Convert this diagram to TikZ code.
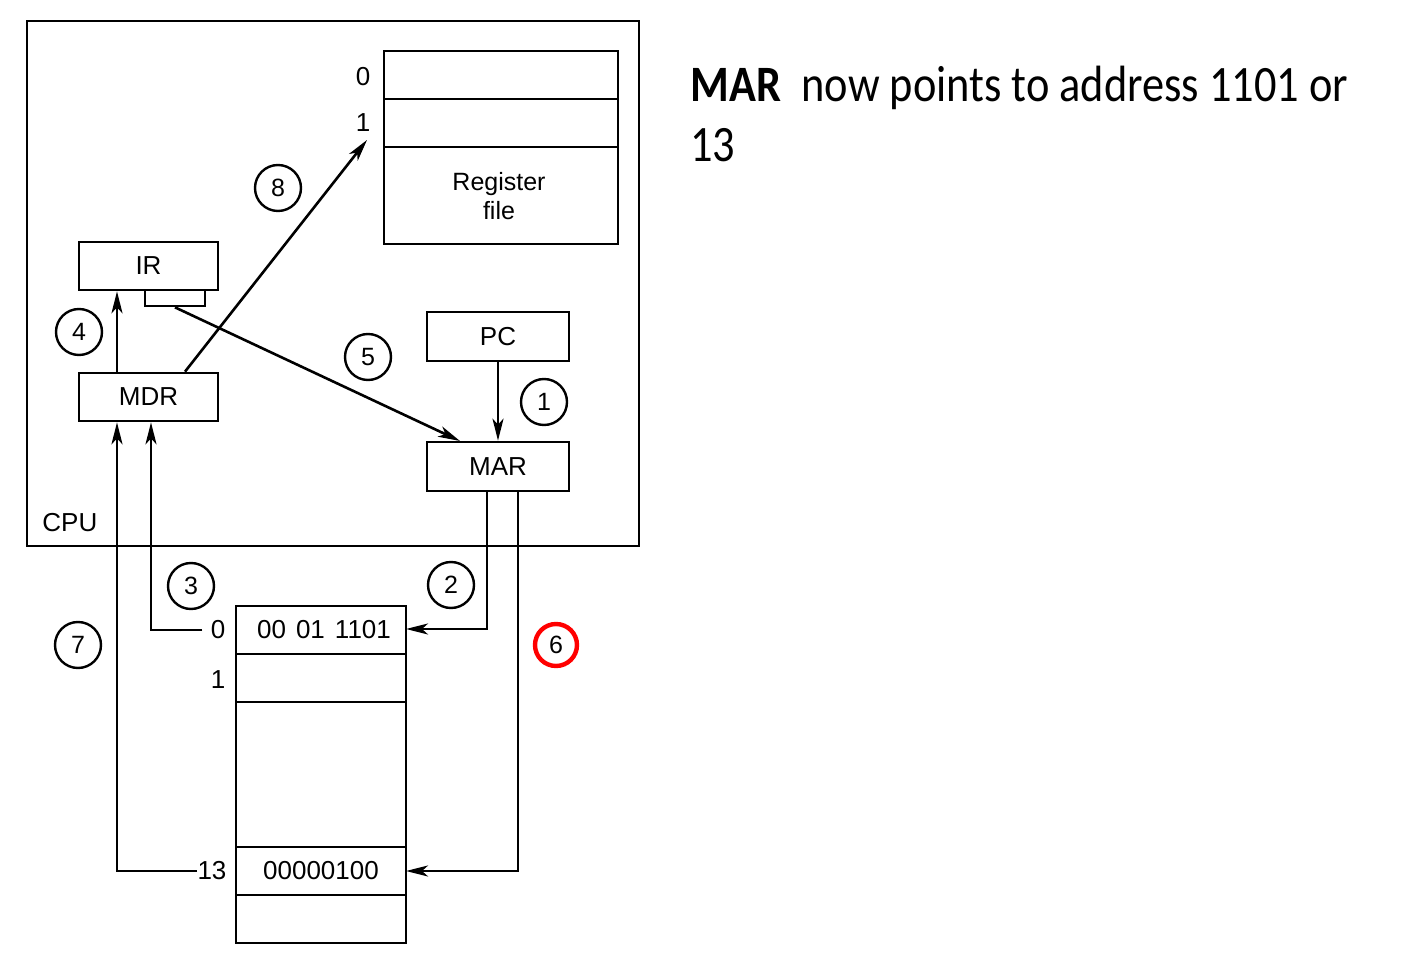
\documentclass[tikz,border=0pt]{standalone}
\usepackage{fontspec}
\setmainfont{Liberation Sans}
\newfontfamily\calib[FakeStretch=0.87]{Carlito}
\usetikzlibrary{arrows.meta}
\begin{document}
\begin{tikzpicture}[x=0.5pt,y=-0.5pt,
  box/.style={draw,line width=1.35pt,inner sep=0pt},
  lbl/.style={font=\fontsize{13}{15}\selectfont,inner sep=0pt},
  num/.style={circle,draw,line width=1.2pt,minimum size=23pt,inner sep=0pt,font=\fontsize{12.5}{14}\selectfont},
  redc/.style={circle,draw=red,line width=2.2pt,minimum size=21pt,inner sep=0pt,font=\fontsize{12.5}{14}\selectfont},
  arr/.style={line width=1.3pt,-{Stealth[length=11pt,width=5.5pt,inset=3pt]}}]
\useasboundingbox (0,0) rectangle (1418,967);
% CPU
\draw[line width=1.3pt] (27,21) rectangle (639,546);
\node[lbl,anchor=west] (cpu) at (42,523) {CPU};
% register file
\draw[box] (384,51) rectangle (618,244);
\draw[line width=1.3pt] (384,99) -- (618,99) (384,147) -- (618,147);
\node[lbl] (r0) at (363,77) {0};
\node[lbl] (r1) at (363,123) {1};
\coordinate (r1tip) at (367,140);
\node[lbl,align=center,font=\fontsize{12.5}{14.5}\selectfont] (rf) at (499,196) {Register\\file};
% boxes
\node[box,minimum width=69.5pt,minimum height=24pt] (ir) at (148.5,266) {};
\node[lbl] at (ir) {IR};
\node[box,minimum width=30pt,minimum height=8pt] (irs) at (175,298) {};
\node[box,minimum width=69.5pt,minimum height=24pt] (mdr) at (148.5,397) {};
\node[lbl] at (mdr) {MDR};
\node[box,minimum width=71pt,minimum height=24.5pt] (pc) at (498,336.5) {};
\node[lbl] at (pc) {PC};
\node[box,minimum width=71pt,minimum height=24.5pt] (mar) at (498,466.5) {};
\node[lbl] at (mar) {MAR};
% memory
\draw[box] (236,606) rectangle (406,943);
\draw[line width=1.3pt] (236,654) -- (406,654) (236,702) -- (406,702) (236,847) -- (406,847) (236,895) -- (406,895);
\node[lbl] (m0t) at (324,630) {00\hspace{5pt}01\hspace{5pt}1101};
\node[lbl] (m13t) at (321,871) {00000100};
\node[lbl] (m0) at (218,630) {0};
\node[lbl] (m1) at (218,680) {1};
\node[lbl] (m13) at (212,871) {13};
\coordinate (mem0) at (406,629);
\coordinate (mem13) at (406,871);
% circles
\node[num] (c8) at (278,188) {8};
\node[num] (c4) at (79,332) {4};
\node[num] (c5) at (368,357) {5};
\node[num] (c1) at (544,402) {1};
\node[num] (c3) at (191,586) {3};
\node[num] (c2) at (451,585) {2};
\node[num] (c7) at (78,645) {7};
\node[redc] (c6) at (556,645) {6};
% connectors
\draw[arr] (mdr.north -| 117,0) -- (ir.south -| 117,0);
\draw[arr] (mdr.north -| 185,0) -- (r1tip);
\draw[arr] (irs.south) -- (460,441);
\draw[arr] (pc.south) -- (mar.north);
\draw[arr] (mar.south -| 487,0) -- (487,629) -- (mem0);
\draw[arr] (mar.south -| 518,0) -- (518,871) -- (mem13);
\draw[arr] ([xshift=-4pt]m0.west) -- (151,630) -- (mdr.south -| 151,0);
\draw[arr] (m13.west) -- (117,871) -- (mdr.south -| 117,0);
% text
\node[anchor=base west,inner sep=0pt,font=\calib\fontsize{25.5}{30}\selectfont] (t1) at (690,102) {\textbf{MAR}\hspace{0.4em}now points to address 1101 or};
\node[anchor=base west,inner sep=0pt,font=\calib\fontsize{25.5}{30}\selectfont] (t2) at (690,162) {13};
\end{tikzpicture}
\end{document}
